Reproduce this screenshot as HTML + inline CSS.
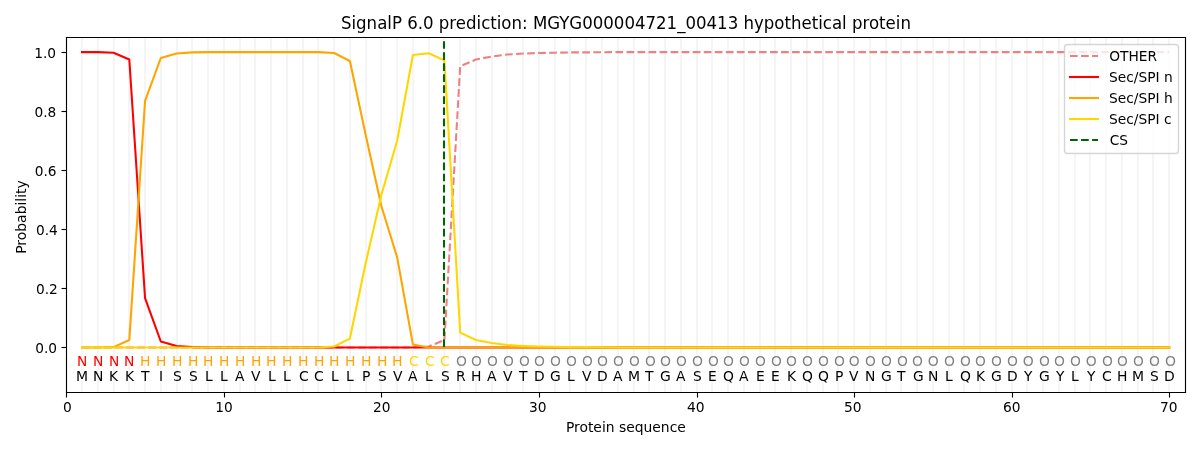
<!DOCTYPE html>
<html><head><meta charset="utf-8"><title>SignalP 6.0 prediction</title>
<style>html,body{margin:0;padding:0;background:#fff;width:1200px;height:450px;overflow:hidden}svg{display:block;will-change:transform}</style>
</head><body>
<svg width="1200" height="450" viewBox="0 0 864 324" version="1.1">
 <defs>
  <style type="text/css">*{stroke-linejoin: round; stroke-linecap: butt}</style>
 </defs>
 <g id="figure_1">
  <g id="patch_1">
   <path d="M 0 324 L 864 324 L 864 0 L 0 0 z
" style="fill: #ffffff"/>
  </g>
  <g id="axes_1">
   <g id="patch_2">
    <path d="M 47.52 282.24 L 853.2 282.24 L 853.2 26.64 L 47.52 26.64 z
" style="fill: #ffffff"/>
   </g>
   <g id="line2d_1">
    <path d="M 59.04 282.24 L 59.04 26.64 
" clip-path="url(#p40c34edd6f)" style="fill: none; stroke: #f5f5f5; stroke-width: 1.5; stroke-linecap: square"/>
   </g>
   <g id="line2d_2">
    <path d="M 70.56 282.24 L 70.56 26.64 
" clip-path="url(#p40c34edd6f)" style="fill: none; stroke: #f5f5f5; stroke-width: 1.5; stroke-linecap: square"/>
   </g>
   <g id="line2d_3">
    <path d="M 82.08 282.24 L 82.08 26.64 
" clip-path="url(#p40c34edd6f)" style="fill: none; stroke: #f5f5f5; stroke-width: 1.5; stroke-linecap: square"/>
   </g>
   <g id="line2d_4">
    <path d="M 92.88 282.24 L 92.88 26.64 
" clip-path="url(#p40c34edd6f)" style="fill: none; stroke: #f5f5f5; stroke-width: 1.5; stroke-linecap: square"/>
   </g>
   <g id="line2d_5">
    <path d="M 104.4 282.24 L 104.4 26.64 
" clip-path="url(#p40c34edd6f)" style="fill: none; stroke: #f5f5f5; stroke-width: 1.5; stroke-linecap: square"/>
   </g>
   <g id="line2d_6">
    <path d="M 115.92 282.24 L 115.92 26.64 
" clip-path="url(#p40c34edd6f)" style="fill: none; stroke: #f5f5f5; stroke-width: 1.5; stroke-linecap: square"/>
   </g>
   <g id="line2d_7">
    <path d="M 127.44 282.24 L 127.44 26.64 
" clip-path="url(#p40c34edd6f)" style="fill: none; stroke: #f5f5f5; stroke-width: 1.5; stroke-linecap: square"/>
   </g>
   <g id="line2d_8">
    <path d="M 138.24 282.24 L 138.24 26.64 
" clip-path="url(#p40c34edd6f)" style="fill: none; stroke: #f5f5f5; stroke-width: 1.5; stroke-linecap: square"/>
   </g>
   <g id="line2d_9">
    <path d="M 149.76 282.24 L 149.76 26.64 
" clip-path="url(#p40c34edd6f)" style="fill: none; stroke: #f5f5f5; stroke-width: 1.5; stroke-linecap: square"/>
   </g>
   <g id="line2d_10">
    <path d="M 161.28 282.24 L 161.28 26.64 
" clip-path="url(#p40c34edd6f)" style="fill: none; stroke: #f5f5f5; stroke-width: 1.5; stroke-linecap: square"/>
   </g>
   <g id="line2d_11">
    <path d="M 172.8 282.24 L 172.8 26.64 
" clip-path="url(#p40c34edd6f)" style="fill: none; stroke: #f5f5f5; stroke-width: 1.5; stroke-linecap: square"/>
   </g>
   <g id="line2d_12">
    <path d="M 183.6 282.24 L 183.6 26.64 
" clip-path="url(#p40c34edd6f)" style="fill: none; stroke: #f5f5f5; stroke-width: 1.5; stroke-linecap: square"/>
   </g>
   <g id="line2d_13">
    <path d="M 195.12 282.24 L 195.12 26.64 
" clip-path="url(#p40c34edd6f)" style="fill: none; stroke: #f5f5f5; stroke-width: 1.5; stroke-linecap: square"/>
   </g>
   <g id="line2d_14">
    <path d="M 206.64 282.24 L 206.64 26.64 
" clip-path="url(#p40c34edd6f)" style="fill: none; stroke: #f5f5f5; stroke-width: 1.5; stroke-linecap: square"/>
   </g>
   <g id="line2d_15">
    <path d="M 218.16 282.24 L 218.16 26.64 
" clip-path="url(#p40c34edd6f)" style="fill: none; stroke: #f5f5f5; stroke-width: 1.5; stroke-linecap: square"/>
   </g>
   <g id="line2d_16">
    <path d="M 228.96 282.24 L 228.96 26.64 
" clip-path="url(#p40c34edd6f)" style="fill: none; stroke: #f5f5f5; stroke-width: 1.5; stroke-linecap: square"/>
   </g>
   <g id="line2d_17">
    <path d="M 240.48 282.24 L 240.48 26.64 
" clip-path="url(#p40c34edd6f)" style="fill: none; stroke: #f5f5f5; stroke-width: 1.5; stroke-linecap: square"/>
   </g>
   <g id="line2d_18">
    <path d="M 252 282.24 L 252 26.64 
" clip-path="url(#p40c34edd6f)" style="fill: none; stroke: #f5f5f5; stroke-width: 1.5; stroke-linecap: square"/>
   </g>
   <g id="line2d_19">
    <path d="M 263.52 282.24 L 263.52 26.64 
" clip-path="url(#p40c34edd6f)" style="fill: none; stroke: #f5f5f5; stroke-width: 1.5; stroke-linecap: square"/>
   </g>
   <g id="line2d_20">
    <path d="M 274.32 282.24 L 274.32 26.64 
" clip-path="url(#p40c34edd6f)" style="fill: none; stroke: #f5f5f5; stroke-width: 1.5; stroke-linecap: square"/>
   </g>
   <g id="line2d_21">
    <path d="M 285.84 282.24 L 285.84 26.64 
" clip-path="url(#p40c34edd6f)" style="fill: none; stroke: #f5f5f5; stroke-width: 1.5; stroke-linecap: square"/>
   </g>
   <g id="line2d_22">
    <path d="M 297.36 282.24 L 297.36 26.64 
" clip-path="url(#p40c34edd6f)" style="fill: none; stroke: #f5f5f5; stroke-width: 1.5; stroke-linecap: square"/>
   </g>
   <g id="line2d_23">
    <path d="M 308.88 282.24 L 308.88 26.64 
" clip-path="url(#p40c34edd6f)" style="fill: none; stroke: #f5f5f5; stroke-width: 1.5; stroke-linecap: square"/>
   </g>
   <g id="line2d_24">
    <path d="M 319.68 282.24 L 319.68 26.64 
" clip-path="url(#p40c34edd6f)" style="fill: none; stroke: #f5f5f5; stroke-width: 1.5; stroke-linecap: square"/>
   </g>
   <g id="line2d_25">
    <path d="M 331.2 282.24 L 331.2 26.64 
" clip-path="url(#p40c34edd6f)" style="fill: none; stroke: #f5f5f5; stroke-width: 1.5; stroke-linecap: square"/>
   </g>
   <g id="line2d_26">
    <path d="M 342.72 282.24 L 342.72 26.64 
" clip-path="url(#p40c34edd6f)" style="fill: none; stroke: #f5f5f5; stroke-width: 1.5; stroke-linecap: square"/>
   </g>
   <g id="line2d_27">
    <path d="M 354.24 282.24 L 354.24 26.64 
" clip-path="url(#p40c34edd6f)" style="fill: none; stroke: #f5f5f5; stroke-width: 1.5; stroke-linecap: square"/>
   </g>
   <g id="line2d_28">
    <path d="M 365.04 282.24 L 365.04 26.64 
" clip-path="url(#p40c34edd6f)" style="fill: none; stroke: #f5f5f5; stroke-width: 1.5; stroke-linecap: square"/>
   </g>
   <g id="line2d_29">
    <path d="M 376.56 282.24 L 376.56 26.64 
" clip-path="url(#p40c34edd6f)" style="fill: none; stroke: #f5f5f5; stroke-width: 1.5; stroke-linecap: square"/>
   </g>
   <g id="line2d_30">
    <path d="M 388.08 282.24 L 388.08 26.64 
" clip-path="url(#p40c34edd6f)" style="fill: none; stroke: #f5f5f5; stroke-width: 1.5; stroke-linecap: square"/>
   </g>
   <g id="line2d_31">
    <path d="M 399.6 282.24 L 399.6 26.64 
" clip-path="url(#p40c34edd6f)" style="fill: none; stroke: #f5f5f5; stroke-width: 1.5; stroke-linecap: square"/>
   </g>
   <g id="line2d_32">
    <path d="M 410.4 282.24 L 410.4 26.64 
" clip-path="url(#p40c34edd6f)" style="fill: none; stroke: #f5f5f5; stroke-width: 1.5; stroke-linecap: square"/>
   </g>
   <g id="line2d_33">
    <path d="M 421.92 282.24 L 421.92 26.64 
" clip-path="url(#p40c34edd6f)" style="fill: none; stroke: #f5f5f5; stroke-width: 1.5; stroke-linecap: square"/>
   </g>
   <g id="line2d_34">
    <path d="M 433.44 282.24 L 433.44 26.64 
" clip-path="url(#p40c34edd6f)" style="fill: none; stroke: #f5f5f5; stroke-width: 1.5; stroke-linecap: square"/>
   </g>
   <g id="line2d_35">
    <path d="M 444.96 282.24 L 444.96 26.64 
" clip-path="url(#p40c34edd6f)" style="fill: none; stroke: #f5f5f5; stroke-width: 1.5; stroke-linecap: square"/>
   </g>
   <g id="line2d_36">
    <path d="M 456.48 282.24 L 456.48 26.64 
" clip-path="url(#p40c34edd6f)" style="fill: none; stroke: #f5f5f5; stroke-width: 1.5; stroke-linecap: square"/>
   </g>
   <g id="line2d_37">
    <path d="M 467.28 282.24 L 467.28 26.64 
" clip-path="url(#p40c34edd6f)" style="fill: none; stroke: #f5f5f5; stroke-width: 1.5; stroke-linecap: square"/>
   </g>
   <g id="line2d_38">
    <path d="M 478.8 282.24 L 478.8 26.64 
" clip-path="url(#p40c34edd6f)" style="fill: none; stroke: #f5f5f5; stroke-width: 1.5; stroke-linecap: square"/>
   </g>
   <g id="line2d_39">
    <path d="M 490.32 282.24 L 490.32 26.64 
" clip-path="url(#p40c34edd6f)" style="fill: none; stroke: #f5f5f5; stroke-width: 1.5; stroke-linecap: square"/>
   </g>
   <g id="line2d_40">
    <path d="M 501.84 282.24 L 501.84 26.64 
" clip-path="url(#p40c34edd6f)" style="fill: none; stroke: #f5f5f5; stroke-width: 1.5; stroke-linecap: square"/>
   </g>
   <g id="line2d_41">
    <path d="M 512.64 282.24 L 512.64 26.64 
" clip-path="url(#p40c34edd6f)" style="fill: none; stroke: #f5f5f5; stroke-width: 1.5; stroke-linecap: square"/>
   </g>
   <g id="line2d_42">
    <path d="M 524.16 282.24 L 524.16 26.64 
" clip-path="url(#p40c34edd6f)" style="fill: none; stroke: #f5f5f5; stroke-width: 1.5; stroke-linecap: square"/>
   </g>
   <g id="line2d_43">
    <path d="M 535.68 282.24 L 535.68 26.64 
" clip-path="url(#p40c34edd6f)" style="fill: none; stroke: #f5f5f5; stroke-width: 1.5; stroke-linecap: square"/>
   </g>
   <g id="line2d_44">
    <path d="M 547.2 282.24 L 547.2 26.64 
" clip-path="url(#p40c34edd6f)" style="fill: none; stroke: #f5f5f5; stroke-width: 1.5; stroke-linecap: square"/>
   </g>
   <g id="line2d_45">
    <path d="M 558 282.24 L 558 26.64 
" clip-path="url(#p40c34edd6f)" style="fill: none; stroke: #f5f5f5; stroke-width: 1.5; stroke-linecap: square"/>
   </g>
   <g id="line2d_46">
    <path d="M 569.52 282.24 L 569.52 26.64 
" clip-path="url(#p40c34edd6f)" style="fill: none; stroke: #f5f5f5; stroke-width: 1.5; stroke-linecap: square"/>
   </g>
   <g id="line2d_47">
    <path d="M 581.04 282.24 L 581.04 26.64 
" clip-path="url(#p40c34edd6f)" style="fill: none; stroke: #f5f5f5; stroke-width: 1.5; stroke-linecap: square"/>
   </g>
   <g id="line2d_48">
    <path d="M 592.56 282.24 L 592.56 26.64 
" clip-path="url(#p40c34edd6f)" style="fill: none; stroke: #f5f5f5; stroke-width: 1.5; stroke-linecap: square"/>
   </g>
   <g id="line2d_49">
    <path d="M 603.36 282.24 L 603.36 26.64 
" clip-path="url(#p40c34edd6f)" style="fill: none; stroke: #f5f5f5; stroke-width: 1.5; stroke-linecap: square"/>
   </g>
   <g id="line2d_50">
    <path d="M 614.88 282.24 L 614.88 26.64 
" clip-path="url(#p40c34edd6f)" style="fill: none; stroke: #f5f5f5; stroke-width: 1.5; stroke-linecap: square"/>
   </g>
   <g id="line2d_51">
    <path d="M 626.4 282.24 L 626.4 26.64 
" clip-path="url(#p40c34edd6f)" style="fill: none; stroke: #f5f5f5; stroke-width: 1.5; stroke-linecap: square"/>
   </g>
   <g id="line2d_52">
    <path d="M 637.92 282.24 L 637.92 26.64 
" clip-path="url(#p40c34edd6f)" style="fill: none; stroke: #f5f5f5; stroke-width: 1.5; stroke-linecap: square"/>
   </g>
   <g id="line2d_53">
    <path d="M 648.72 282.24 L 648.72 26.64 
" clip-path="url(#p40c34edd6f)" style="fill: none; stroke: #f5f5f5; stroke-width: 1.5; stroke-linecap: square"/>
   </g>
   <g id="line2d_54">
    <path d="M 660.24 282.24 L 660.24 26.64 
" clip-path="url(#p40c34edd6f)" style="fill: none; stroke: #f5f5f5; stroke-width: 1.5; stroke-linecap: square"/>
   </g>
   <g id="line2d_55">
    <path d="M 671.76 282.24 L 671.76 26.64 
" clip-path="url(#p40c34edd6f)" style="fill: none; stroke: #f5f5f5; stroke-width: 1.5; stroke-linecap: square"/>
   </g>
   <g id="line2d_56">
    <path d="M 683.28 282.24 L 683.28 26.64 
" clip-path="url(#p40c34edd6f)" style="fill: none; stroke: #f5f5f5; stroke-width: 1.5; stroke-linecap: square"/>
   </g>
   <g id="line2d_57">
    <path d="M 694.08 282.24 L 694.08 26.64 
" clip-path="url(#p40c34edd6f)" style="fill: none; stroke: #f5f5f5; stroke-width: 1.5; stroke-linecap: square"/>
   </g>
   <g id="line2d_58">
    <path d="M 705.6 282.24 L 705.6 26.64 
" clip-path="url(#p40c34edd6f)" style="fill: none; stroke: #f5f5f5; stroke-width: 1.5; stroke-linecap: square"/>
   </g>
   <g id="line2d_59">
    <path d="M 717.12 282.24 L 717.12 26.64 
" clip-path="url(#p40c34edd6f)" style="fill: none; stroke: #f5f5f5; stroke-width: 1.5; stroke-linecap: square"/>
   </g>
   <g id="line2d_60">
    <path d="M 728.64 282.24 L 728.64 26.64 
" clip-path="url(#p40c34edd6f)" style="fill: none; stroke: #f5f5f5; stroke-width: 1.5; stroke-linecap: square"/>
   </g>
   <g id="line2d_61">
    <path d="M 739.44 282.24 L 739.44 26.64 
" clip-path="url(#p40c34edd6f)" style="fill: none; stroke: #f5f5f5; stroke-width: 1.5; stroke-linecap: square"/>
   </g>
   <g id="line2d_62">
    <path d="M 750.96 282.24 L 750.96 26.64 
" clip-path="url(#p40c34edd6f)" style="fill: none; stroke: #f5f5f5; stroke-width: 1.5; stroke-linecap: square"/>
   </g>
   <g id="line2d_63">
    <path d="M 762.48 282.24 L 762.48 26.64 
" clip-path="url(#p40c34edd6f)" style="fill: none; stroke: #f5f5f5; stroke-width: 1.5; stroke-linecap: square"/>
   </g>
   <g id="line2d_64">
    <path d="M 774 282.24 L 774 26.64 
" clip-path="url(#p40c34edd6f)" style="fill: none; stroke: #f5f5f5; stroke-width: 1.5; stroke-linecap: square"/>
   </g>
   <g id="line2d_65">
    <path d="M 784.8 282.24 L 784.8 26.64 
" clip-path="url(#p40c34edd6f)" style="fill: none; stroke: #f5f5f5; stroke-width: 1.5; stroke-linecap: square"/>
   </g>
   <g id="line2d_66">
    <path d="M 796.32 282.24 L 796.32 26.64 
" clip-path="url(#p40c34edd6f)" style="fill: none; stroke: #f5f5f5; stroke-width: 1.5; stroke-linecap: square"/>
   </g>
   <g id="line2d_67">
    <path d="M 807.84 282.24 L 807.84 26.64 
" clip-path="url(#p40c34edd6f)" style="fill: none; stroke: #f5f5f5; stroke-width: 1.5; stroke-linecap: square"/>
   </g>
   <g id="line2d_68">
    <path d="M 819.36 282.24 L 819.36 26.64 
" clip-path="url(#p40c34edd6f)" style="fill: none; stroke: #f5f5f5; stroke-width: 1.5; stroke-linecap: square"/>
   </g>
   <g id="line2d_69">
    <path d="M 830.16 282.24 L 830.16 26.64 
" clip-path="url(#p40c34edd6f)" style="fill: none; stroke: #f5f5f5; stroke-width: 1.5; stroke-linecap: square"/>
   </g>
   <g id="line2d_70">
    <path d="M 841.68 282.24 L 841.68 26.64 
" clip-path="url(#p40c34edd6f)" style="fill: none; stroke: #f5f5f5; stroke-width: 1.5; stroke-linecap: square"/>
   </g>
   <g id="matplotlib.axis_1">
    <g id="xtick_1">
     <g id="line2d_71">
      <defs>
       <path id="maa40d0f9ec" d="M 0.36 0.36 L 0.36 3.96 
" style="stroke: #000000; stroke-width: 0.8"/>
      </defs>
      <g>
       <use href="#maa40d0f9ec" x="47.52" y="282.24" style="stroke: #000000; stroke-width: 0.8"/>
      </g>
     </g>
     <g id="text_1">
      <text style="font-size: 10px; font-family: 'DejaVu Sans', sans-serif; text-anchor: middle" x="47.72" y="296.96" transform="translate(0.720 0.000) rotate(-0 47.72 296.96) translate(47.72 296.96) scale(0.9950 1.0000) translate(-47.72 -296.96)">0</text>
     </g>
    </g>
    <g id="xtick_2">
     <g id="line2d_72">
      <g>
       <use href="#maa40d0f9ec" x="161.28" y="282.24" style="stroke: #000000; stroke-width: 0.8"/>
      </g>
     </g>
     <g id="text_2">
      <text style="font-size: 10px; font-family: 'DejaVu Sans', sans-serif; text-anchor: middle" x="161.167887" y="296.96" transform="translate(0.180 0.000) rotate(-0 161.167887 296.96) translate(161.167887 296.96) scale(0.9900 1.0000) translate(-161.167887 -296.96)">10</text>
     </g>
    </g>
    <g id="xtick_3">
     <g id="line2d_73">
      <g>
       <use href="#maa40d0f9ec" x="274.32" y="282.24" style="stroke: #000000; stroke-width: 0.8"/>
      </g>
     </g>
     <g id="text_3">
      <text style="font-size: 10px; font-family: 'DejaVu Sans', sans-serif; text-anchor: middle" x="274.615775" y="296.96" transform="translate(0.180 0.000) rotate(-0 274.615775 296.96) translate(274.615775 296.96) scale(0.9900 1.0000) translate(-274.615775 -296.96)">20</text>
     </g>
    </g>
    <g id="xtick_4">
     <g id="line2d_74">
      <g>
       <use href="#maa40d0f9ec" x="388.08" y="282.24" style="stroke: #000000; stroke-width: 0.8"/>
      </g>
     </g>
     <g id="text_4">
      <text style="font-size: 10px; font-family: 'DejaVu Sans', sans-serif; text-anchor: middle" x="388.063662" y="296.96" transform="translate(-0.900 0.000) rotate(-0 388.063662 296.96) translate(388.063662 296.96) scale(0.9950 1.0000) translate(-388.063662 -296.96)">30</text>
     </g>
    </g>
    <g id="xtick_5">
     <g id="line2d_75">
      <g>
       <use href="#maa40d0f9ec" x="501.84" y="282.24" style="stroke: #000000; stroke-width: 0.8"/>
      </g>
     </g>
     <g id="text_5">
      <text style="font-size: 10px; font-family: 'DejaVu Sans', sans-serif; text-anchor: middle" x="501.511549" y="296.96" transform="translate(-0.540 0.000) rotate(-0 501.511549 296.96)">40</text>
     </g>
    </g>
    <g id="xtick_6">
     <g id="line2d_76">
      <g>
       <use href="#maa40d0f9ec" x="614.88" y="282.24" style="stroke: #000000; stroke-width: 0.8"/>
      </g>
     </g>
     <g id="text_6">
      <text style="font-size: 10px; font-family: 'DejaVu Sans', sans-serif; text-anchor: middle" x="614.959437" y="296.96" transform="translate(-0.900 0.000) rotate(-0 614.959437 296.96) translate(614.959437 296.96) scale(0.9950 1.0000) translate(-614.959437 -296.96)">50</text>
     </g>
    </g>
    <g id="xtick_7">
     <g id="line2d_77">
      <g>
       <use href="#maa40d0f9ec" x="728.64" y="282.24" style="stroke: #000000; stroke-width: 0.8"/>
      </g>
     </g>
     <g id="text_7">
      <text style="font-size: 10px; font-family: 'DejaVu Sans', sans-serif; text-anchor: middle" x="728.407324" y="296.96" transform="translate(0.000 0.000) rotate(-0 728.407324 296.96) translate(728.407324 296.96) scale(0.9950 1.0000) translate(-728.407324 -296.96)">60</text>
     </g>
    </g>
    <g id="xtick_8">
     <g id="line2d_78">
      <g>
       <use href="#maa40d0f9ec" x="841.68" y="282.24" style="stroke: #000000; stroke-width: 0.8"/>
      </g>
     </g>
     <g id="text_8">
      <text style="font-size: 10px; font-family: 'DejaVu Sans', sans-serif; text-anchor: middle" x="841.855211" y="296.96" transform="translate(-0.360 0.000) rotate(-0 841.855211 296.96) translate(841.855211 296.96) scale(0.9950 1.0000) translate(-841.855211 -296.96)">70</text>
     </g>
    </g>
    <g id="text_9">
     <text style="font-size: 10px; font-family: 'DejaVu Sans', sans-serif; text-anchor: middle" x="450.46" y="311.04" transform="translate(0.180 0.000) rotate(-0 450.46 311.04)">Protein sequence</text>
    </g>
   </g>
   <g id="matplotlib.axis_2">
    <g id="ytick_1">
     <g id="line2d_79">
      <defs>
       <path id="m4ad1b35ef3" d="M 0.36 0.36 L -3.24 0.36 
" style="stroke: #000000; stroke-width: 0.8"/>
      </defs>
      <g>
       <use href="#m4ad1b35ef3" x="47.52" y="249.84" style="stroke: #000000; stroke-width: 0.8"/>
      </g>
     </g>
     <g id="text_10">
      <text style="font-size: 10px; font-family: 'DejaVu Sans', sans-serif; text-anchor: end" x="40.72" y="254.105" transform="translate(0.360 0.000) rotate(-0 40.72 254.105) translate(40.72 254.105) scale(0.9900 1.0000) translate(-40.72 -254.105)">0.0</text>
     </g>
    </g>
    <g id="ytick_2">
     <g id="line2d_80">
      <g>
       <use href="#m4ad1b35ef3" x="47.52" y="207.36" style="stroke: #000000; stroke-width: 0.8"/>
      </g>
     </g>
     <g id="text_11">
      <text style="font-size: 10px; font-family: 'DejaVu Sans', sans-serif; text-anchor: end" x="40.72" y="211.578333" transform="translate(0.900 0.000) rotate(-0 40.72 211.578333) translate(40.72 211.578333) scale(0.9900 1.0000) translate(-40.72 -211.578333)">0.2</text>
     </g>
    </g>
    <g id="ytick_3">
     <g id="line2d_81">
      <g>
       <use href="#m4ad1b35ef3" x="47.52" y="164.88" style="stroke: #000000; stroke-width: 0.8"/>
      </g>
     </g>
     <g id="text_12">
      <text style="font-size: 10px; font-family: 'DejaVu Sans', sans-serif; text-anchor: end" x="40.72" y="169.051667" transform="translate(0.900 0.000) rotate(-0 40.72 169.051667) translate(40.72 169.051667) scale(0.9900 1.0000) translate(-40.72 -169.051667)">0.4</text>
     </g>
    </g>
    <g id="ytick_4">
     <g id="line2d_82">
      <g>
       <use href="#m4ad1b35ef3" x="47.52" y="122.4" style="stroke: #000000; stroke-width: 0.8"/>
      </g>
     </g>
     <g id="text_13">
      <text style="font-size: 10px; font-family: 'DejaVu Sans', sans-serif; text-anchor: end" x="40.72" y="126.525" transform="translate(0.000 0.000) rotate(-0 40.72 126.525) translate(40.72 126.525) scale(0.9900 1.0000) translate(-40.72 -126.525)">0.6</text>
     </g>
    </g>
    <g id="ytick_5">
     <g id="line2d_83">
      <g>
       <use href="#m4ad1b35ef3" x="47.52" y="79.92" style="stroke: #000000; stroke-width: 0.8"/>
      </g>
     </g>
     <g id="text_14">
      <text style="font-size: 10px; font-family: 'DejaVu Sans', sans-serif; text-anchor: end" x="40.72" y="83.998333" transform="translate(-0.180 0.000) rotate(-0 40.72 83.998333) translate(40.72 83.998333) scale(0.9900 1.0000) translate(-40.72 -83.998333)">0.8</text>
     </g>
    </g>
    <g id="ytick_6">
     <g id="line2d_84">
      <g>
       <use href="#m4ad1b35ef3" x="47.52" y="37.44" style="stroke: #000000; stroke-width: 0.8"/>
      </g>
     </g>
     <g id="text_15">
      <text style="font-size: 10px; font-family: 'DejaVu Sans', sans-serif; text-anchor: end" x="40.72" y="41.471667" transform="translate(-0.360 0.000) rotate(-0 40.72 41.471667) translate(40.72 41.471667) scale(0.9900 1.0000) translate(-40.72 -41.471667)">1.0</text>
     </g>
    </g>
    <g id="text_16">
     <text style="font-size: 10px; font-family: 'DejaVu Sans', sans-serif; text-anchor: middle" x="18.72" y="154.46" transform="translate(0.000 1.800) rotate(-90 18.72 154.46) translate(18.72 154.46) scale(1.0050 1.0000) translate(-18.72 -154.46)">Probability</text>
    </g>
   </g>
   <g id="line2d_85">
    <path d="M 59.064789 250.145 L 70.409577 250.145 L 81.754366 250.145 L 93.099155 250.145 L 104.443944 250.145 L 115.788732 250.145 L 127.133521 250.145 L 138.47831 250.145 L 149.823099 250.145 L 161.167887 250.145 L 172.512676 250.145 L 183.857465 250.145 L 195.202254 250.145 L 206.547042 250.145 L 217.891831 250.145 L 229.23662 250.145 L 240.581408 250.145 L 251.926197 250.145 L 263.270986 250.145 L 274.615775 250.145 L 285.960563 250.145 L 297.305352 250.145 L 308.650141 249.5071 L 319.99493 244.829167 L 331.339718 47.718067 L 342.684507 42.8275 L 354.029296 40.701167 L 365.374085 39.212733 L 376.718873 38.574833 L 388.063662 38.149567 L 399.408451 37.936933 L 410.753239 37.7243 L 422.098028 37.7243 L 433.442817 37.617983 L 444.787606 37.511667 L 456.132394 37.511667 L 467.477183 37.511667 L 478.821972 37.511667 L 490.166761 37.511667 L 501.511549 37.511667 L 512.856338 37.511667 L 524.201127 37.511667 L 535.545915 37.511667 L 546.890704 37.511667 L 558.235493 37.511667 L 569.580282 37.511667 L 580.92507 37.511667 L 592.269859 37.511667 L 603.614648 37.511667 L 614.959437 37.511667 L 626.304225 37.511667 L 637.649014 37.511667 L 648.993803 37.511667 L 660.338592 37.511667 L 671.68338 37.511667 L 683.028169 37.511667 L 694.372958 37.511667 L 705.717746 37.511667 L 717.062535 37.511667 L 728.407324 37.511667 L 739.752113 37.511667 L 751.096901 37.511667 L 762.44169 37.511667 L 773.786479 37.511667 L 785.131268 37.511667 L 796.476056 37.511667 L 807.820845 37.511667 L 819.165634 37.511667 L 830.510423 37.511667 L 841.855211 37.511667 
" clip-path="url(#p40c34edd6f)" style="fill: none; stroke-dasharray: 5.55,2.4; stroke-dashoffset: 0; stroke: #f08080; stroke-width: 1.5"/>
   </g>
   <g id="line2d_86">
    <path d="M 59.064789 37.511667 L 70.409577 37.511667 L 81.754366 37.936933 L 93.099155 42.8275 L 104.443944 214.635233 L 115.788732 245.892333 L 127.133521 249.081833 L 138.47831 249.932367 L 149.823099 250.145 L 161.167887 250.145 L 172.512676 250.145 L 183.857465 250.145 L 195.202254 250.145 L 206.547042 250.145 L 217.891831 250.145 L 229.23662 250.145 L 240.581408 250.145 L 251.926197 250.145 L 263.270986 250.145 L 274.615775 250.145 L 285.960563 250.145 L 297.305352 250.145 L 308.650141 250.145 L 319.99493 250.145 L 331.339718 250.145 L 342.684507 250.145 L 354.029296 250.145 L 365.374085 250.145 L 376.718873 250.145 L 388.063662 250.145 L 399.408451 250.145 L 410.753239 250.145 L 422.098028 250.145 L 433.442817 250.145 L 444.787606 250.145 L 456.132394 250.145 L 467.477183 250.145 L 478.821972 250.145 L 490.166761 250.145 L 501.511549 250.145 L 512.856338 250.145 L 524.201127 250.145 L 535.545915 250.145 L 546.890704 250.145 L 558.235493 250.145 L 569.580282 250.145 L 580.92507 250.145 L 592.269859 250.145 L 603.614648 250.145 L 614.959437 250.145 L 626.304225 250.145 L 637.649014 250.145 L 648.993803 250.145 L 660.338592 250.145 L 671.68338 250.145 L 683.028169 250.145 L 694.372958 250.145 L 705.717746 250.145 L 717.062535 250.145 L 728.407324 250.145 L 739.752113 250.145 L 751.096901 250.145 L 762.44169 250.145 L 773.786479 250.145 L 785.131268 250.145 L 796.476056 250.145 L 807.820845 250.145 L 819.165634 250.145 L 830.510423 250.145 L 841.855211 250.145 
" clip-path="url(#p40c34edd6f)" style="fill: none; stroke: #ff0000; stroke-width: 1.5; stroke-linecap: square"/>
   </g>
   <g id="line2d_87">
    <path d="M 59.064789 250.145 L 70.409577 250.145 L 81.754366 249.932367 L 93.099155 244.829167 L 104.443944 72.596167 L 115.788732 41.764333 L 127.133521 38.574833 L 138.47831 37.7243 L 149.823099 37.511667 L 161.167887 37.511667 L 172.512676 37.511667 L 183.857465 37.511667 L 195.202254 37.511667 L 206.547042 37.511667 L 217.891831 37.511667 L 229.23662 37.511667 L 240.581408 38.149567 L 251.926197 43.890667 L 263.270986 97.049 L 274.615775 148.506267 L 285.960563 185.291833 L 297.305352 248.018667 L 308.650141 250.145 L 319.99493 250.145 L 331.339718 250.145 L 342.684507 250.145 L 354.029296 250.145 L 365.374085 250.145 L 376.718873 250.145 L 388.063662 250.145 L 399.408451 250.145 L 410.753239 250.145 L 422.098028 250.145 L 433.442817 250.145 L 444.787606 250.145 L 456.132394 250.145 L 467.477183 250.145 L 478.821972 250.145 L 490.166761 250.145 L 501.511549 250.145 L 512.856338 250.145 L 524.201127 250.145 L 535.545915 250.145 L 546.890704 250.145 L 558.235493 250.145 L 569.580282 250.145 L 580.92507 250.145 L 592.269859 250.145 L 603.614648 250.145 L 614.959437 250.145 L 626.304225 250.145 L 637.649014 250.145 L 648.993803 250.145 L 660.338592 250.145 L 671.68338 250.145 L 683.028169 250.145 L 694.372958 250.145 L 705.717746 250.145 L 717.062535 250.145 L 728.407324 250.145 L 739.752113 250.145 L 751.096901 250.145 L 762.44169 250.145 L 773.786479 250.145 L 785.131268 250.145 L 796.476056 250.145 L 807.820845 250.145 L 819.165634 250.145 L 830.510423 250.145 L 841.855211 250.145 
" clip-path="url(#p40c34edd6f)" style="fill: none; stroke: #ffa500; stroke-width: 1.5; stroke-linecap: square"/>
   </g>
   <g id="line2d_88">
    <path d="M 59.064789 250.145 L 70.409577 250.145 L 81.754366 250.145 L 93.099155 250.145 L 104.443944 250.145 L 115.788732 250.145 L 127.133521 250.145 L 138.47831 250.145 L 149.823099 250.145 L 161.167887 250.145 L 172.512676 250.145 L 183.857465 250.145 L 195.202254 250.145 L 206.547042 250.145 L 217.891831 250.145 L 229.23662 250.145 L 240.581408 249.5071 L 251.926197 243.766 L 263.270986 189.5445 L 274.615775 140.213567 L 285.960563 101.301667 L 297.305352 39.638 L 308.650141 38.3622 L 319.99493 43.4654 L 331.339718 239.513333 L 342.684507 244.829167 L 354.029296 246.9555 L 365.374085 248.443933 L 376.718873 249.081833 L 388.063662 249.5071 L 399.408451 249.719733 L 410.753239 249.932367 L 422.098028 249.932367 L 433.442817 250.038683 L 444.787606 250.145 L 456.132394 250.145 L 467.477183 250.145 L 478.821972 250.145 L 490.166761 250.145 L 501.511549 250.145 L 512.856338 250.145 L 524.201127 250.145 L 535.545915 250.145 L 546.890704 250.145 L 558.235493 250.145 L 569.580282 250.145 L 580.92507 250.145 L 592.269859 250.145 L 603.614648 250.145 L 614.959437 250.145 L 626.304225 250.145 L 637.649014 250.145 L 648.993803 250.145 L 660.338592 250.145 L 671.68338 250.145 L 683.028169 250.145 L 694.372958 250.145 L 705.717746 250.145 L 717.062535 250.145 L 728.407324 250.145 L 739.752113 250.145 L 751.096901 250.145 L 762.44169 250.145 L 773.786479 250.145 L 785.131268 250.145 L 796.476056 250.145 L 807.820845 250.145 L 819.165634 250.145 L 830.510423 250.145 L 841.855211 250.145 
" clip-path="url(#p40c34edd6f)" style="fill: none; stroke: #ffd700; stroke-width: 1.5; stroke-linecap: square"/>
   </g>
   <g id="line2d_89">
    <path d="M 319.68 249.84 L 319.68 26.64 
" clip-path="url(#p40c34edd6f)" style="fill: none; stroke-dasharray: 5.55,2.4; stroke-dashoffset: 0; stroke: #006400; stroke-width: 1.5"/>
   </g>
   <g id="patch_3">
    <path d="M 47.88 282.6 L 47.88 27 
" style="fill: none; stroke: #000000; stroke-width: 0.8; stroke-linejoin: miter; stroke-linecap: square"/>
   </g>
   <g id="patch_4">
    <path d="M 853.56 282.6 L 853.56 27 
" style="fill: none; stroke: #000000; stroke-width: 0.8; stroke-linejoin: miter; stroke-linecap: square"/>
   </g>
   <g id="patch_5">
    <path d="M 47.88 282.6 L 853.56 282.6 
" style="fill: none; stroke: #000000; stroke-width: 0.8; stroke-linejoin: miter; stroke-linecap: square"/>
   </g>
   <g id="patch_6">
    <path d="M 47.88 27 L 853.56 27 
" style="fill: none; stroke: #000000; stroke-width: 0.8; stroke-linejoin: miter; stroke-linecap: square"/>
   </g>
   <g id="text_17">
    <text style="font-size: 10px; font-family: 'DejaVu Sans', sans-serif; text-anchor: middle; fill: #ff0000" x="59.064789" y="263.656667" transform="translate(0.000 0.000) rotate(-0 59.064789 263.656667) translate(59.064789 263.656667) scale(0.9900 1.0000) translate(-59.064789 -263.656667)">N</text>
   </g>
   <g id="text_18">
    <text style="font-size: 10px; font-family: 'DejaVu Sans', sans-serif; text-anchor: middle" x="59.064789" y="274.288333" transform="translate(0.000 0.000) rotate(-0 59.064789 274.288333) translate(59.064789 274.288333) scale(1.0050 1.0000) translate(-59.064789 -274.288333)">M</text>
   </g>
   <g id="text_19">
    <text style="font-size: 10px; font-family: 'DejaVu Sans', sans-serif; text-anchor: middle; fill: #ff0000" x="70.409577" y="263.656667" transform="translate(0.360 0.000) rotate(-0 70.409577 263.656667)">N</text>
   </g>
   <g id="text_20">
    <text style="font-size: 10px; font-family: 'DejaVu Sans', sans-serif; text-anchor: middle" x="70.409577" y="274.288333" transform="translate(0.360 0.000) rotate(-0 70.409577 274.288333)">N</text>
   </g>
   <g id="text_21">
    <text style="font-size: 10px; font-family: 'DejaVu Sans', sans-serif; text-anchor: middle; fill: #ff0000" x="81.754366" y="263.656667" transform="translate(0.360 0.000) rotate(-0 81.754366 263.656667) translate(81.754366 263.656667) scale(0.9900 1.0000) translate(-81.754366 -263.656667)">N</text>
   </g>
   <g id="text_22">
    <text style="font-size: 10px; font-family: 'DejaVu Sans', sans-serif; text-anchor: middle" x="81.754366" y="274.288333" transform="translate(0.000 0.000) rotate(-0 81.754366 274.288333) translate(81.754366 274.288333) scale(0.9900 1.0000) translate(-81.754366 -274.288333)">K</text>
   </g>
   <g id="text_23">
    <text style="font-size: 10px; font-family: 'DejaVu Sans', sans-serif; text-anchor: middle; fill: #ff0000" x="93.099155" y="263.656667" transform="rotate(-0 93.099155 263.656667)">N</text>
   </g>
   <g id="text_24">
    <text style="font-size: 10px; font-family: 'DejaVu Sans', sans-serif; text-anchor: middle" x="93.099155" y="274.288333" transform="translate(0.180 0.000) rotate(-0 93.099155 274.288333)">K</text>
   </g>
   <g id="text_25">
    <text style="font-size: 10px; font-family: 'DejaVu Sans', sans-serif; text-anchor: middle; fill: #ffa500" x="104.443944" y="263.656667" transform="translate(0.180 0.000) rotate(-0 104.443944 263.656667)">H</text>
   </g>
   <g id="text_26">
    <text style="font-size: 10px; font-family: 'DejaVu Sans', sans-serif; text-anchor: middle" x="104.443944" y="274.288333" transform="translate(0.180 0.000) rotate(-0 104.443944 274.288333) translate(104.443944 274.288333) scale(1.0050 1.0000) translate(-104.443944 -274.288333)">T</text>
   </g>
   <g id="text_27">
    <text style="font-size: 10px; font-family: 'DejaVu Sans', sans-serif; text-anchor: middle; fill: #ffa500" x="115.788732" y="263.656667" transform="translate(0.180 0.000) rotate(-0 115.788732 263.656667) translate(115.788732 263.656667) scale(0.9900 1.0000) translate(-115.788732 -263.656667)">H</text>
   </g>
   <g id="text_28">
    <text style="font-size: 10px; font-family: 'DejaVu Sans', sans-serif; text-anchor: middle" x="115.788732" y="274.288333" transform="translate(0.180 0.000) rotate(-0 115.788732 274.288333) translate(115.788732 274.288333) scale(0.9900 1.0000) translate(-115.788732 -274.288333)">I</text>
   </g>
   <g id="text_29">
    <text style="font-size: 10px; font-family: 'DejaVu Sans', sans-serif; text-anchor: middle; fill: #ffa500" x="127.133521" y="263.656667" transform="translate(0.540 0.000) rotate(-0 127.133521 263.656667)">H</text>
   </g>
   <g id="text_30">
    <text style="font-size: 10px; font-family: 'DejaVu Sans', sans-serif; text-anchor: middle" x="127.133521" y="274.288333" transform="translate(0.540 0.000) rotate(-0 127.133521 274.288333)">S</text>
   </g>
   <g id="text_31">
    <text style="font-size: 10px; font-family: 'DejaVu Sans', sans-serif; text-anchor: middle; fill: #ffa500" x="138.47831" y="263.656667" transform="translate(0.720 0.000) rotate(-0 138.47831 263.656667)">H</text>
   </g>
   <g id="text_32">
    <text style="font-size: 10px; font-family: 'DejaVu Sans', sans-serif; text-anchor: middle" x="138.47831" y="274.288333" transform="translate(0.720 0.000) rotate(-0 138.47831 274.288333) translate(138.47831 274.288333) scale(0.9950 1.0000) translate(-138.47831 -274.288333)">S</text>
   </g>
   <g id="text_33">
    <text style="font-size: 10px; font-family: 'DejaVu Sans', sans-serif; text-anchor: middle; fill: #ffa500" x="149.823099" y="263.656667" transform="translate(0.180 0.000) rotate(-0 149.823099 263.656667)">H</text>
   </g>
   <g id="text_34">
    <text style="font-size: 10px; font-family: 'DejaVu Sans', sans-serif; text-anchor: middle" x="149.823099" y="274.288333" transform="translate(0.540 0.000) rotate(-0 149.823099 274.288333)">L</text>
   </g>
   <g id="text_35">
    <text style="font-size: 10px; font-family: 'DejaVu Sans', sans-serif; text-anchor: middle; fill: #ffa500" x="161.167887" y="263.656667" transform="translate(0.180 0.000) rotate(-0 161.167887 263.656667) translate(161.167887 263.656667) scale(0.9950 1.0000) translate(-161.167887 -263.656667)">H</text>
   </g>
   <g id="text_36">
    <text style="font-size: 10px; font-family: 'DejaVu Sans', sans-serif; text-anchor: middle" x="161.167887" y="274.288333" transform="rotate(-0 161.167887 274.288333)">L</text>
   </g>
   <g id="text_37">
    <text style="font-size: 10px; font-family: 'DejaVu Sans', sans-serif; text-anchor: middle; fill: #ffa500" x="172.512676" y="263.656667" transform="translate(0.360 0.000) rotate(-0 172.512676 263.656667) translate(172.512676 263.656667) scale(0.9950 1.0000) translate(-172.512676 -263.656667)">H</text>
   </g>
   <g id="text_38">
    <text style="font-size: 10px; font-family: 'DejaVu Sans', sans-serif; text-anchor: middle" x="172.512676" y="274.288333" transform="translate(0.180 0.000) rotate(-0 172.512676 274.288333) translate(172.512676 274.288333) scale(0.9950 1.0000) translate(-172.512676 -274.288333)">A</text>
   </g>
   <g id="text_39">
    <text style="font-size: 10px; font-family: 'DejaVu Sans', sans-serif; text-anchor: middle; fill: #ffa500" x="183.857465" y="263.656667" transform="translate(0.540 0.000) rotate(-0 183.857465 263.656667) translate(183.857465 263.656667) scale(0.9950 1.0000) translate(-183.857465 -263.656667)">H</text>
   </g>
   <g id="text_40">
    <text style="font-size: 10px; font-family: 'DejaVu Sans', sans-serif; text-anchor: middle" x="183.857465" y="274.288333" transform="translate(0.360 0.000) rotate(-0 183.857465 274.288333)">V</text>
   </g>
   <g id="text_41">
    <text style="font-size: 10px; font-family: 'DejaVu Sans', sans-serif; text-anchor: middle; fill: #ffa500" x="195.202254" y="263.656667" transform="translate(0.180 0.000) rotate(-0 195.202254 263.656667) translate(195.202254 263.656667) scale(1.0050 1.0000) translate(-195.202254 -263.656667)">H</text>
   </g>
   <g id="text_42">
    <text style="font-size: 10px; font-family: 'DejaVu Sans', sans-serif; text-anchor: middle" x="195.202254" y="274.288333" transform="translate(0.540 0.000) rotate(-0 195.202254 274.288333) translate(195.202254 274.288333) scale(1.0050 1.0000) translate(-195.202254 -274.288333)">L</text>
   </g>
   <g id="text_43">
    <text style="font-size: 10px; font-family: 'DejaVu Sans', sans-serif; text-anchor: middle; fill: #ffa500" x="206.547042" y="263.656667" transform="translate(0.180 0.000) rotate(-0 206.547042 263.656667)">H</text>
   </g>
   <g id="text_44">
    <text style="font-size: 10px; font-family: 'DejaVu Sans', sans-serif; text-anchor: middle" x="206.547042" y="274.288333" transform="rotate(-0 206.547042 274.288333)">L</text>
   </g>
   <g id="text_45">
    <text style="font-size: 10px; font-family: 'DejaVu Sans', sans-serif; text-anchor: middle; fill: #ffa500" x="217.891831" y="263.656667" transform="translate(0.540 0.000) rotate(-0 217.891831 263.656667) translate(217.891831 263.656667) scale(1.0050 1.0000) translate(-217.891831 -263.656667)">H</text>
   </g>
   <g id="text_46">
    <text style="font-size: 10px; font-family: 'DejaVu Sans', sans-serif; text-anchor: middle" x="217.891831" y="274.288333" transform="translate(0.900 0.000) rotate(-0 217.891831 274.288333) translate(217.891831 274.288333) scale(1.0050 1.0000) translate(-217.891831 -274.288333)">C</text>
   </g>
   <g id="text_47">
    <text style="font-size: 10px; font-family: 'DejaVu Sans', sans-serif; text-anchor: middle; fill: #ffa500" x="229.23662" y="263.656667" transform="translate(0.540 0.000) rotate(-0 229.23662 263.656667) translate(229.23662 263.656667) scale(0.9950 1.0000) translate(-229.23662 -263.656667)">H</text>
   </g>
   <g id="text_48">
    <text style="font-size: 10px; font-family: 'DejaVu Sans', sans-serif; text-anchor: middle" x="229.23662" y="274.288333" transform="translate(0.360 0.000) rotate(-0 229.23662 274.288333) translate(229.23662 274.288333) scale(1.0050 1.0000) translate(-229.23662 -274.288333)">C</text>
   </g>
   <g id="text_49">
    <text style="font-size: 10px; font-family: 'DejaVu Sans', sans-serif; text-anchor: middle; fill: #ffa500" x="240.581408" y="263.656667" transform="rotate(-0 240.581408 263.656667)">H</text>
   </g>
   <g id="text_50">
    <text style="font-size: 10px; font-family: 'DejaVu Sans', sans-serif; text-anchor: middle" x="240.581408" y="274.288333" transform="translate(0.540 0.000) rotate(-0 240.581408 274.288333) translate(240.581408 274.288333) scale(0.9900 1.0000) translate(-240.581408 -274.288333)">L</text>
   </g>
   <g id="text_51">
    <text style="font-size: 10px; font-family: 'DejaVu Sans', sans-serif; text-anchor: middle; fill: #ffa500" x="251.926197" y="263.656667" transform="translate(0.180 0.000) rotate(-0 251.926197 263.656667)">H</text>
   </g>
   <g id="text_52">
    <text style="font-size: 10px; font-family: 'DejaVu Sans', sans-serif; text-anchor: middle" x="251.926197" y="274.288333" transform="rotate(-0 251.926197 274.288333)">L</text>
   </g>
   <g id="text_53">
    <text style="font-size: 10px; font-family: 'DejaVu Sans', sans-serif; text-anchor: middle; fill: #ffa500" x="263.270986" y="263.656667" transform="translate(0.360 0.000) rotate(-0 263.270986 263.656667)">H</text>
   </g>
   <g id="text_54">
    <text style="font-size: 10px; font-family: 'DejaVu Sans', sans-serif; text-anchor: middle" x="263.270986" y="274.288333" transform="translate(0.360 0.000) rotate(-0 263.270986 274.288333)">P</text>
   </g>
   <g id="text_55">
    <text style="font-size: 10px; font-family: 'DejaVu Sans', sans-serif; text-anchor: middle; fill: #ffa500" x="274.615775" y="263.656667" transform="translate(0.540 0.000) rotate(-0 274.615775 263.656667)">H</text>
   </g>
   <g id="text_56">
    <text style="font-size: 10px; font-family: 'DejaVu Sans', sans-serif; text-anchor: middle" x="274.615775" y="274.288333" transform="translate(0.720 0.000) rotate(-0 274.615775 274.288333) translate(274.615775 274.288333) scale(0.9900 1.0000) translate(-274.615775 -274.288333)">S</text>
   </g>
   <g id="text_57">
    <text style="font-size: 10px; font-family: 'DejaVu Sans', sans-serif; text-anchor: middle; fill: #ffa500" x="285.960563" y="263.656667" transform="translate(0.000 0.000) rotate(-0 285.960563 263.656667) translate(285.960563 263.656667) scale(1.0050 1.0000) translate(-285.960563 -263.656667)">H</text>
   </g>
   <g id="text_58">
    <text style="font-size: 10px; font-family: 'DejaVu Sans', sans-serif; text-anchor: middle" x="285.960563" y="274.288333" transform="translate(0.360 0.000) rotate(-0 285.960563 274.288333)">V</text>
   </g>
   <g id="text_59">
    <text style="font-size: 10px; font-family: 'DejaVu Sans', sans-serif; text-anchor: middle; fill: #ffd700" x="297.305352" y="263.656667" transform="translate(0.720 0.000) rotate(-0 297.305352 263.656667) translate(297.305352 263.656667) scale(0.9900 1.0000) translate(-297.305352 -263.656667)">C</text>
   </g>
   <g id="text_60">
    <text style="font-size: 10px; font-family: 'DejaVu Sans', sans-serif; text-anchor: middle" x="297.305352" y="274.288333" transform="translate(-0.180 0.000) rotate(-0 297.305352 274.288333)">A</text>
   </g>
   <g id="text_61">
    <text style="font-size: 10px; font-family: 'DejaVu Sans', sans-serif; text-anchor: middle; fill: #ffd700" x="308.650141" y="263.656667" transform="translate(0.720 0.000) rotate(-0 308.650141 263.656667) translate(308.650141 263.656667) scale(0.9900 1.0000) translate(-308.650141 -263.656667)">C</text>
   </g>
   <g id="text_62">
    <text style="font-size: 10px; font-family: 'DejaVu Sans', sans-serif; text-anchor: middle" x="308.650141" y="274.288333" transform="translate(0.180 0.000) rotate(-0 308.650141 274.288333) translate(308.650141 274.288333) scale(0.9900 1.0000) translate(-308.650141 -274.288333)">L</text>
   </g>
   <g id="text_63">
    <text style="font-size: 10px; font-family: 'DejaVu Sans', sans-serif; text-anchor: middle; fill: #ffd700" x="319.99493" y="263.656667" transform="translate(0.360 0.000) rotate(-0 319.99493 263.656667)">C</text>
   </g>
   <g id="text_64">
    <text style="font-size: 10px; font-family: 'DejaVu Sans', sans-serif; text-anchor: middle" x="319.99493" y="274.288333" transform="translate(0.720 0.000) rotate(-0 319.99493 274.288333) translate(319.99493 274.288333) scale(0.9950 1.0000) translate(-319.99493 -274.288333)">S</text>
   </g>
   <g id="text_65">
    <text style="font-size: 10px; font-family: 'DejaVu Sans', sans-serif; text-anchor: middle; fill: #808080" x="331.339718" y="263.656667" transform="translate(0.900 0.000) rotate(-0 331.339718 263.656667)">O</text>
   </g>
   <g id="text_66">
    <text style="font-size: 10px; font-family: 'DejaVu Sans', sans-serif; text-anchor: middle" x="331.339718" y="274.288333" transform="translate(0.540 0.000) rotate(-0 331.339718 274.288333)">R</text>
   </g>
   <g id="text_67">
    <text style="font-size: 10px; font-family: 'DejaVu Sans', sans-serif; text-anchor: middle; fill: #808080" x="342.684507" y="263.656667" transform="translate(0.360 0.000) rotate(-0 342.684507 263.656667) translate(342.684507 263.656667) scale(0.9900 1.0000) translate(-342.684507 -263.656667)">O</text>
   </g>
   <g id="text_68">
    <text style="font-size: 10px; font-family: 'DejaVu Sans', sans-serif; text-anchor: middle" x="342.684507" y="274.288333" transform="translate(0.180 0.000) rotate(-0 342.684507 274.288333)">H</text>
   </g>
   <g id="text_69">
    <text style="font-size: 10px; font-family: 'DejaVu Sans', sans-serif; text-anchor: middle; fill: #808080" x="354.029296" y="263.656667" transform="translate(0.540 0.000) rotate(-0 354.029296 263.656667) translate(354.029296 263.656667) scale(0.9950 1.0000) translate(-354.029296 -263.656667)">O</text>
   </g>
   <g id="text_70">
    <text style="font-size: 10px; font-family: 'DejaVu Sans', sans-serif; text-anchor: middle" x="354.029296" y="274.288333" transform="rotate(-0 354.029296 274.288333)">A</text>
   </g>
   <g id="text_71">
    <text style="font-size: 10px; font-family: 'DejaVu Sans', sans-serif; text-anchor: middle; fill: #808080" x="365.374085" y="263.656667" transform="translate(0.720 0.000) rotate(-0 365.374085 263.656667) translate(365.374085 263.656667) scale(0.9950 1.0000) translate(-365.374085 -263.656667)">O</text>
   </g>
   <g id="text_72">
    <text style="font-size: 10px; font-family: 'DejaVu Sans', sans-serif; text-anchor: middle" x="365.374085" y="274.288333" transform="translate(0.180 0.000) rotate(-0 365.374085 274.288333)">V</text>
   </g>
   <g id="text_73">
    <text style="font-size: 10px; font-family: 'DejaVu Sans', sans-serif; text-anchor: middle; fill: #808080" x="376.718873" y="263.656667" transform="translate(0.900 0.000) rotate(-0 376.718873 263.656667) translate(376.718873 263.656667) scale(0.9900 1.0000) translate(-376.718873 -263.656667)">O</text>
   </g>
   <g id="text_74">
    <text style="font-size: 10px; font-family: 'DejaVu Sans', sans-serif; text-anchor: middle" x="376.718873" y="274.288333" transform="translate(0.000 0.000) rotate(-0 376.718873 274.288333) translate(376.718873 274.288333) scale(1.0050 1.0000) translate(-376.718873 -274.288333)">T</text>
   </g>
   <g id="text_75">
    <text style="font-size: 10px; font-family: 'DejaVu Sans', sans-serif; text-anchor: middle; fill: #808080" x="388.063662" y="263.656667" transform="translate(0.360 0.000) rotate(-0 388.063662 263.656667)">O</text>
   </g>
   <g id="text_76">
    <text style="font-size: 10px; font-family: 'DejaVu Sans', sans-serif; text-anchor: middle" x="388.063662" y="274.288333" transform="translate(0.360 0.000) rotate(-0 388.063662 274.288333)">D</text>
   </g>
   <g id="text_77">
    <text style="font-size: 10px; font-family: 'DejaVu Sans', sans-serif; text-anchor: middle; fill: #808080" x="399.408451" y="263.656667" transform="translate(0.540 0.000) rotate(-0 399.408451 263.656667)">O</text>
   </g>
   <g id="text_78">
    <text style="font-size: 10px; font-family: 'DejaVu Sans', sans-serif; text-anchor: middle" x="399.408451" y="274.288333" transform="translate(0.540 0.000) rotate(-0 399.408451 274.288333)">G</text>
   </g>
   <g id="text_79">
    <text style="font-size: 10px; font-family: 'DejaVu Sans', sans-serif; text-anchor: middle; fill: #808080" x="410.753239" y="263.656667" transform="translate(0.720 0.000) rotate(-0 410.753239 263.656667)">O</text>
   </g>
   <g id="text_80">
    <text style="font-size: 10px; font-family: 'DejaVu Sans', sans-serif; text-anchor: middle" x="410.753239" y="274.288333" transform="translate(0.360 0.000) rotate(-0 410.753239 274.288333)">L</text>
   </g>
   <g id="text_81">
    <text style="font-size: 10px; font-family: 'DejaVu Sans', sans-serif; text-anchor: middle; fill: #808080" x="422.098028" y="263.656667" transform="translate(0.900 0.000) rotate(-0 422.098028 263.656667) translate(422.098028 263.656667) scale(0.9900 1.0000) translate(-422.098028 -263.656667)">O</text>
   </g>
   <g id="text_82">
    <text style="font-size: 10px; font-family: 'DejaVu Sans', sans-serif; text-anchor: middle" x="422.098028" y="274.288333" transform="translate(0.360 0.000) rotate(-0 422.098028 274.288333)">V</text>
   </g>
   <g id="text_83">
    <text style="font-size: 10px; font-family: 'DejaVu Sans', sans-serif; text-anchor: middle; fill: #808080" x="433.442817" y="263.656667" transform="translate(0.360 0.000) rotate(-0 433.442817 263.656667) translate(433.442817 263.656667) scale(1.0050 1.0000) translate(-433.442817 -263.656667)">O</text>
   </g>
   <g id="text_84">
    <text style="font-size: 10px; font-family: 'DejaVu Sans', sans-serif; text-anchor: middle" x="433.442817" y="274.288333" transform="translate(0.360 0.000) rotate(-0 433.442817 274.288333) translate(433.442817 274.288333) scale(1.0050 1.0000) translate(-433.442817 -274.288333)">D</text>
   </g>
   <g id="text_85">
    <text style="font-size: 10px; font-family: 'DejaVu Sans', sans-serif; text-anchor: middle; fill: #808080" x="444.787606" y="263.656667" transform="translate(0.540 0.000) rotate(-0 444.787606 263.656667) translate(444.787606 263.656667) scale(0.9950 1.0000) translate(-444.787606 -263.656667)">O</text>
   </g>
   <g id="text_86">
    <text style="font-size: 10px; font-family: 'DejaVu Sans', sans-serif; text-anchor: middle" x="444.787606" y="274.288333" transform="rotate(-0 444.787606 274.288333)">A</text>
   </g>
   <g id="text_87">
    <text style="font-size: 10px; font-family: 'DejaVu Sans', sans-serif; text-anchor: middle; fill: #808080" x="456.132394" y="263.656667" transform="translate(0.720 0.000) rotate(-0 456.132394 263.656667) translate(456.132394 263.656667) scale(0.9900 1.0000) translate(-456.132394 -263.656667)">O</text>
   </g>
   <g id="text_88">
    <text style="font-size: 10px; font-family: 'DejaVu Sans', sans-serif; text-anchor: middle" x="456.132394" y="274.288333" transform="translate(0.360 0.000) rotate(-0 456.132394 274.288333) translate(456.132394 274.288333) scale(1.0050 1.0000) translate(-456.132394 -274.288333)">M</text>
   </g>
   <g id="text_89">
    <text style="font-size: 10px; font-family: 'DejaVu Sans', sans-serif; text-anchor: middle; fill: #808080" x="467.477183" y="263.656667" transform="translate(0.900 0.000) rotate(-0 467.477183 263.656667) translate(467.477183 263.656667) scale(0.9900 1.0000) translate(-467.477183 -263.656667)">O</text>
   </g>
   <g id="text_90">
    <text style="font-size: 10px; font-family: 'DejaVu Sans', sans-serif; text-anchor: middle" x="467.477183" y="274.288333" transform="translate(0.000 0.000) rotate(-0 467.477183 274.288333) translate(467.477183 274.288333) scale(1.0050 1.0000) translate(-467.477183 -274.288333)">T</text>
   </g>
   <g id="text_91">
    <text style="font-size: 10px; font-family: 'DejaVu Sans', sans-serif; text-anchor: middle; fill: #808080" x="478.821972" y="263.656667" transform="translate(0.360 0.000) rotate(-0 478.821972 263.656667) translate(478.821972 263.656667) scale(1.0050 1.0000) translate(-478.821972 -263.656667)">O</text>
   </g>
   <g id="text_92">
    <text style="font-size: 10px; font-family: 'DejaVu Sans', sans-serif; text-anchor: middle" x="478.821972" y="274.288333" transform="translate(0.360 0.000) rotate(-0 478.821972 274.288333) translate(478.821972 274.288333) scale(1.0050 1.0000) translate(-478.821972 -274.288333)">G</text>
   </g>
   <g id="text_93">
    <text style="font-size: 10px; font-family: 'DejaVu Sans', sans-serif; text-anchor: middle; fill: #808080" x="490.166761" y="263.656667" transform="translate(0.360 0.000) rotate(-0 490.166761 263.656667) translate(490.166761 263.656667) scale(0.9900 1.0000) translate(-490.166761 -263.656667)">O</text>
   </g>
   <g id="text_94">
    <text style="font-size: 10px; font-family: 'DejaVu Sans', sans-serif; text-anchor: middle" x="490.166761" y="274.288333" transform="rotate(-0 490.166761 274.288333)">A</text>
   </g>
   <g id="text_95">
    <text style="font-size: 10px; font-family: 'DejaVu Sans', sans-serif; text-anchor: middle; fill: #808080" x="501.511549" y="263.656667" transform="translate(0.720 0.000) rotate(-0 501.511549 263.656667) translate(501.511549 263.656667) scale(1.0050 1.0000) translate(-501.511549 -263.656667)">O</text>
   </g>
   <g id="text_96">
    <text style="font-size: 10px; font-family: 'DejaVu Sans', sans-serif; text-anchor: middle" x="501.511549" y="274.288333" transform="translate(0.540 0.000) rotate(-0 501.511549 274.288333) translate(501.511549 274.288333) scale(0.9900 1.0000) translate(-501.511549 -274.288333)">S</text>
   </g>
   <g id="text_97">
    <text style="font-size: 10px; font-family: 'DejaVu Sans', sans-serif; text-anchor: middle; fill: #808080" x="512.856338" y="263.656667" transform="translate(0.720 0.000) rotate(-0 512.856338 263.656667) translate(512.856338 263.656667) scale(0.9900 1.0000) translate(-512.856338 -263.656667)">O</text>
   </g>
   <g id="text_98">
    <text style="font-size: 10px; font-family: 'DejaVu Sans', sans-serif; text-anchor: middle" x="512.856338" y="274.288333" transform="translate(0.000 0.000) rotate(-0 512.856338 274.288333) translate(512.856338 274.288333) scale(0.9900 1.0000) translate(-512.856338 -274.288333)">E</text>
   </g>
   <g id="text_99">
    <text style="font-size: 10px; font-family: 'DejaVu Sans', sans-serif; text-anchor: middle; fill: #808080" x="524.201127" y="263.656667" transform="translate(0.360 0.000) rotate(-0 524.201127 263.656667)">O</text>
   </g>
   <g id="text_100">
    <text style="font-size: 10px; font-family: 'DejaVu Sans', sans-serif; text-anchor: middle" x="524.201127" y="274.288333" transform="translate(0.360 0.000) rotate(-0 524.201127 274.288333)">Q</text>
   </g>
   <g id="text_101">
    <text style="font-size: 10px; font-family: 'DejaVu Sans', sans-serif; text-anchor: middle; fill: #808080" x="535.545915" y="263.656667" transform="translate(0.360 0.000) rotate(-0 535.545915 263.656667) translate(535.545915 263.656667) scale(0.9900 1.0000) translate(-535.545915 -263.656667)">O</text>
   </g>
   <g id="text_102">
    <text style="font-size: 10px; font-family: 'DejaVu Sans', sans-serif; text-anchor: middle" x="535.545915" y="274.288333" transform="rotate(-0 535.545915 274.288333)">A</text>
   </g>
   <g id="text_103">
    <text style="font-size: 10px; font-family: 'DejaVu Sans', sans-serif; text-anchor: middle; fill: #808080" x="546.890704" y="263.656667" transform="translate(0.540 0.000) rotate(-0 546.890704 263.656667) translate(546.890704 263.656667) scale(0.9950 1.0000) translate(-546.890704 -263.656667)">O</text>
   </g>
   <g id="text_104">
    <text style="font-size: 10px; font-family: 'DejaVu Sans', sans-serif; text-anchor: middle" x="546.890704" y="274.288333" transform="translate(0.540 0.000) rotate(-0 546.890704 274.288333) translate(546.890704 274.288333) scale(0.9950 1.0000) translate(-546.890704 -274.288333)">E</text>
   </g>
   <g id="text_105">
    <text style="font-size: 10px; font-family: 'DejaVu Sans', sans-serif; text-anchor: middle; fill: #808080" x="558.235493" y="263.656667" transform="translate(0.720 0.000) rotate(-0 558.235493 263.656667) translate(558.235493 263.656667) scale(0.9950 1.0000) translate(-558.235493 -263.656667)">O</text>
   </g>
   <g id="text_106">
    <text style="font-size: 10px; font-family: 'DejaVu Sans', sans-serif; text-anchor: middle" x="558.235493" y="274.288333" transform="translate(0.000 0.000) rotate(-0 558.235493 274.288333) translate(558.235493 274.288333) scale(0.9950 1.0000) translate(-558.235493 -274.288333)">E</text>
   </g>
   <g id="text_107">
    <text style="font-size: 10px; font-family: 'DejaVu Sans', sans-serif; text-anchor: middle; fill: #808080" x="569.580282" y="263.656667" transform="translate(0.360 0.000) rotate(-0 569.580282 263.656667)">O</text>
   </g>
   <g id="text_108">
    <text style="font-size: 10px; font-family: 'DejaVu Sans', sans-serif; text-anchor: middle" x="569.580282" y="274.288333" transform="translate(0.360 0.000) rotate(-0 569.580282 274.288333)">K</text>
   </g>
   <g id="text_109">
    <text style="font-size: 10px; font-family: 'DejaVu Sans', sans-serif; text-anchor: middle; fill: #808080" x="580.92507" y="263.656667" transform="translate(0.360 0.000) rotate(-0 580.92507 263.656667)">O</text>
   </g>
   <g id="text_110">
    <text style="font-size: 10px; font-family: 'DejaVu Sans', sans-serif; text-anchor: middle" x="580.92507" y="274.288333" transform="translate(0.360 0.000) rotate(-0 580.92507 274.288333)">Q</text>
   </g>
   <g id="text_111">
    <text style="font-size: 10px; font-family: 'DejaVu Sans', sans-serif; text-anchor: middle; fill: #808080" x="592.269859" y="263.656667" transform="translate(0.540 0.000) rotate(-0 592.269859 263.656667)">O</text>
   </g>
   <g id="text_112">
    <text style="font-size: 10px; font-family: 'DejaVu Sans', sans-serif; text-anchor: middle" x="592.269859" y="274.288333" transform="translate(0.540 0.000) rotate(-0 592.269859 274.288333)">Q</text>
   </g>
   <g id="text_113">
    <text style="font-size: 10px; font-family: 'DejaVu Sans', sans-serif; text-anchor: middle; fill: #808080" x="603.614648" y="263.656667" transform="translate(0.720 0.000) rotate(-0 603.614648 263.656667)">O</text>
   </g>
   <g id="text_114">
    <text style="font-size: 10px; font-family: 'DejaVu Sans', sans-serif; text-anchor: middle" x="603.614648" y="274.288333" transform="translate(0.540 0.000) rotate(-0 603.614648 274.288333)">P</text>
   </g>
   <g id="text_115">
    <text style="font-size: 10px; font-family: 'DejaVu Sans', sans-serif; text-anchor: middle; fill: #808080" x="614.959437" y="263.656667" transform="rotate(-0 614.959437 263.656667)">O</text>
   </g>
   <g id="text_116">
    <text style="font-size: 10px; font-family: 'DejaVu Sans', sans-serif; text-anchor: middle" x="614.959437" y="274.288333" transform="translate(-0.180 0.000) rotate(-0 614.959437 274.288333)">V</text>
   </g>
   <g id="text_117">
    <text style="font-size: 10px; font-family: 'DejaVu Sans', sans-serif; text-anchor: middle; fill: #808080" x="626.304225" y="263.656667" transform="translate(0.360 0.000) rotate(-0 626.304225 263.656667) translate(626.304225 263.656667) scale(0.9900 1.0000) translate(-626.304225 -263.656667)">O</text>
   </g>
   <g id="text_118">
    <text style="font-size: 10px; font-family: 'DejaVu Sans', sans-serif; text-anchor: middle" x="626.304225" y="274.288333" transform="translate(0.180 0.000) rotate(-0 626.304225 274.288333)">N</text>
   </g>
   <g id="text_119">
    <text style="font-size: 10px; font-family: 'DejaVu Sans', sans-serif; text-anchor: middle; fill: #808080" x="637.649014" y="263.656667" transform="translate(0.540 0.000) rotate(-0 637.649014 263.656667)">O</text>
   </g>
   <g id="text_120">
    <text style="font-size: 10px; font-family: 'DejaVu Sans', sans-serif; text-anchor: middle" x="637.649014" y="274.288333" transform="translate(0.540 0.000) rotate(-0 637.649014 274.288333)">G</text>
   </g>
   <g id="text_121">
    <text style="font-size: 10px; font-family: 'DejaVu Sans', sans-serif; text-anchor: middle; fill: #808080" x="648.993803" y="263.656667" transform="translate(0.720 0.000) rotate(-0 648.993803 263.656667)">O</text>
   </g>
   <g id="text_122">
    <text style="font-size: 10px; font-family: 'DejaVu Sans', sans-serif; text-anchor: middle" x="648.993803" y="274.288333" transform="translate(0.000 0.000) rotate(-0 648.993803 274.288333) translate(648.993803 274.288333) scale(1.0050 1.0000) translate(-648.993803 -274.288333)">T</text>
   </g>
   <g id="text_123">
    <text style="font-size: 10px; font-family: 'DejaVu Sans', sans-serif; text-anchor: middle; fill: #808080" x="660.338592" y="263.656667" transform="translate(0.180 0.000) rotate(-0 660.338592 263.656667)">O</text>
   </g>
   <g id="text_124">
    <text style="font-size: 10px; font-family: 'DejaVu Sans', sans-serif; text-anchor: middle" x="660.338592" y="274.288333" transform="translate(0.900 0.000) rotate(-0 660.338592 274.288333) translate(660.338592 274.288333) scale(0.9950 1.0000) translate(-660.338592 -274.288333)">G</text>
   </g>
   <g id="text_125">
    <text style="font-size: 10px; font-family: 'DejaVu Sans', sans-serif; text-anchor: middle; fill: #808080" x="671.68338" y="263.656667" transform="translate(0.180 0.000) rotate(-0 671.68338 263.656667) translate(671.68338 263.656667) scale(1.0050 1.0000) translate(-671.68338 -263.656667)">O</text>
   </g>
   <g id="text_126">
    <text style="font-size: 10px; font-family: 'DejaVu Sans', sans-serif; text-anchor: middle" x="671.68338" y="274.288333" transform="translate(0.180 0.000) rotate(-0 671.68338 274.288333)">N</text>
   </g>
   <g id="text_127">
    <text style="font-size: 10px; font-family: 'DejaVu Sans', sans-serif; text-anchor: middle; fill: #808080" x="683.028169" y="263.656667" transform="translate(0.540 0.000) rotate(-0 683.028169 263.656667)">O</text>
   </g>
   <g id="text_128">
    <text style="font-size: 10px; font-family: 'DejaVu Sans', sans-serif; text-anchor: middle" x="683.028169" y="274.288333" transform="translate(0.180 0.000) rotate(-0 683.028169 274.288333)">L</text>
   </g>
   <g id="text_129">
    <text style="font-size: 10px; font-family: 'DejaVu Sans', sans-serif; text-anchor: middle; fill: #808080" x="694.372958" y="263.656667" transform="translate(0.720 0.000) rotate(-0 694.372958 263.656667) translate(694.372958 263.656667) scale(0.9950 1.0000) translate(-694.372958 -263.656667)">O</text>
   </g>
   <g id="text_130">
    <text style="font-size: 10px; font-family: 'DejaVu Sans', sans-serif; text-anchor: middle" x="694.372958" y="274.288333" transform="translate(0.720 0.000) rotate(-0 694.372958 274.288333)">Q</text>
   </g>
   <g id="text_131">
    <text style="font-size: 10px; font-family: 'DejaVu Sans', sans-serif; text-anchor: middle; fill: #808080" x="705.717746" y="263.656667" transform="translate(0.180 0.000) rotate(-0 705.717746 263.656667) translate(705.717746 263.656667) scale(0.9900 1.0000) translate(-705.717746 -263.656667)">O</text>
   </g>
   <g id="text_132">
    <text style="font-size: 10px; font-family: 'DejaVu Sans', sans-serif; text-anchor: middle" x="705.717746" y="274.288333" transform="translate(0.180 0.000) rotate(-0 705.717746 274.288333) translate(705.717746 274.288333) scale(0.9900 1.0000) translate(-705.717746 -274.288333)">K</text>
   </g>
   <g id="text_133">
    <text style="font-size: 10px; font-family: 'DejaVu Sans', sans-serif; text-anchor: middle; fill: #808080" x="717.062535" y="263.656667" transform="translate(0.360 0.000) rotate(-0 717.062535 263.656667)">O</text>
   </g>
   <g id="text_134">
    <text style="font-size: 10px; font-family: 'DejaVu Sans', sans-serif; text-anchor: middle" x="717.062535" y="274.288333" transform="translate(0.360 0.000) rotate(-0 717.062535 274.288333)">G</text>
   </g>
   <g id="text_135">
    <text style="font-size: 10px; font-family: 'DejaVu Sans', sans-serif; text-anchor: middle; fill: #808080" x="728.407324" y="263.656667" transform="translate(0.540 0.000) rotate(-0 728.407324 263.656667)">O</text>
   </g>
   <g id="text_136">
    <text style="font-size: 10px; font-family: 'DejaVu Sans', sans-serif; text-anchor: middle" x="728.407324" y="274.288333" transform="translate(0.540 0.000) rotate(-0 728.407324 274.288333)">D</text>
   </g>
   <g id="text_137">
    <text style="font-size: 10px; font-family: 'DejaVu Sans', sans-serif; text-anchor: middle; fill: #808080" x="739.752113" y="263.656667" transform="translate(0.540 0.000) rotate(-0 739.752113 263.656667) translate(739.752113 263.656667) scale(1.0050 1.0000) translate(-739.752113 -263.656667)">O</text>
   </g>
   <g id="text_138">
    <text style="font-size: 10px; font-family: 'DejaVu Sans', sans-serif; text-anchor: middle" x="739.752113" y="274.288333" transform="translate(0.540 0.000) rotate(-0 739.752113 274.288333) translate(739.752113 274.288333) scale(0.9900 1.0000) translate(-739.752113 -274.288333)">Y</text>
   </g>
   <g id="text_139">
    <text style="font-size: 10px; font-family: 'DejaVu Sans', sans-serif; text-anchor: middle; fill: #808080" x="751.096901" y="263.656667" transform="translate(0.900 0.000) rotate(-0 751.096901 263.656667) translate(751.096901 263.656667) scale(0.9950 1.0000) translate(-751.096901 -263.656667)">O</text>
   </g>
   <g id="text_140">
    <text style="font-size: 10px; font-family: 'DejaVu Sans', sans-serif; text-anchor: middle" x="751.096901" y="274.288333" transform="translate(0.900 0.000) rotate(-0 751.096901 274.288333)">G</text>
   </g>
   <g id="text_141">
    <text style="font-size: 10px; font-family: 'DejaVu Sans', sans-serif; text-anchor: middle; fill: #808080" x="762.44169" y="263.656667" transform="translate(0.360 0.000) rotate(-0 762.44169 263.656667)">O</text>
   </g>
   <g id="text_142">
    <text style="font-size: 10px; font-family: 'DejaVu Sans', sans-serif; text-anchor: middle" x="762.44169" y="274.288333" transform="translate(0.900 0.000) rotate(-0 762.44169 274.288333) translate(762.44169 274.288333) scale(0.9900 1.0000) translate(-762.44169 -274.288333)">Y</text>
   </g>
   <g id="text_143">
    <text style="font-size: 10px; font-family: 'DejaVu Sans', sans-serif; text-anchor: middle; fill: #808080" x="773.786479" y="263.656667" transform="translate(0.540 0.000) rotate(-0 773.786479 263.656667)">O</text>
   </g>
   <g id="text_144">
    <text style="font-size: 10px; font-family: 'DejaVu Sans', sans-serif; text-anchor: middle" x="773.786479" y="274.288333" transform="translate(0.180 0.000) rotate(-0 773.786479 274.288333)">L</text>
   </g>
   <g id="text_145">
    <text style="font-size: 10px; font-family: 'DejaVu Sans', sans-serif; text-anchor: middle; fill: #808080" x="785.131268" y="263.656667" transform="translate(0.540 0.000) rotate(-0 785.131268 263.656667) translate(785.131268 263.656667) scale(1.0050 1.0000) translate(-785.131268 -263.656667)">O</text>
   </g>
   <g id="text_146">
    <text style="font-size: 10px; font-family: 'DejaVu Sans', sans-serif; text-anchor: middle" x="785.131268" y="274.288333" transform="translate(0.540 0.000) rotate(-0 785.131268 274.288333) translate(785.131268 274.288333) scale(0.9900 1.0000) translate(-785.131268 -274.288333)">Y</text>
   </g>
   <g id="text_147">
    <text style="font-size: 10px; font-family: 'DejaVu Sans', sans-serif; text-anchor: middle; fill: #808080" x="796.476056" y="263.656667" transform="translate(0.900 0.000) rotate(-0 796.476056 263.656667)">O</text>
   </g>
   <g id="text_148">
    <text style="font-size: 10px; font-family: 'DejaVu Sans', sans-serif; text-anchor: middle" x="796.476056" y="274.288333" transform="translate(0.540 0.000) rotate(-0 796.476056 274.288333) translate(796.476056 274.288333) scale(1.0050 1.0000) translate(-796.476056 -274.288333)">C</text>
   </g>
   <g id="text_149">
    <text style="font-size: 10px; font-family: 'DejaVu Sans', sans-serif; text-anchor: middle; fill: #808080" x="807.820845" y="263.656667" transform="translate(0.360 0.000) rotate(-0 807.820845 263.656667) translate(807.820845 263.656667) scale(0.9900 1.0000) translate(-807.820845 -263.656667)">O</text>
   </g>
   <g id="text_150">
    <text style="font-size: 10px; font-family: 'DejaVu Sans', sans-serif; text-anchor: middle" x="807.820845" y="274.288333" transform="translate(0.180 0.000) rotate(-0 807.820845 274.288333)">H</text>
   </g>
   <g id="text_151">
    <text style="font-size: 10px; font-family: 'DejaVu Sans', sans-serif; text-anchor: middle; fill: #808080" x="819.165634" y="263.656667" transform="translate(0.540 0.000) rotate(-0 819.165634 263.656667) translate(819.165634 263.656667) scale(0.9900 1.0000) translate(-819.165634 -263.656667)">O</text>
   </g>
   <g id="text_152">
    <text style="font-size: 10px; font-family: 'DejaVu Sans', sans-serif; text-anchor: middle" x="819.165634" y="274.288333" transform="translate(0.180 0.000) rotate(-0 819.165634 274.288333) translate(819.165634 274.288333) scale(1.0050 1.0000) translate(-819.165634 -274.288333)">M</text>
   </g>
   <g id="text_153">
    <text style="font-size: 10px; font-family: 'DejaVu Sans', sans-serif; text-anchor: middle; fill: #808080" x="830.510423" y="263.656667" transform="translate(0.720 0.000) rotate(-0 830.510423 263.656667)">O</text>
   </g>
   <g id="text_154">
    <text style="font-size: 10px; font-family: 'DejaVu Sans', sans-serif; text-anchor: middle" x="830.510423" y="274.288333" transform="translate(0.720 0.000) rotate(-0 830.510423 274.288333) translate(830.510423 274.288333) scale(0.9950 1.0000) translate(-830.510423 -274.288333)">S</text>
   </g>
   <g id="text_155">
    <text style="font-size: 10px; font-family: 'DejaVu Sans', sans-serif; text-anchor: middle; fill: #808080" x="841.855211" y="263.656667" transform="translate(0.900 0.000) rotate(-0 841.855211 263.656667) translate(841.855211 263.656667) scale(1.0050 1.0000) translate(-841.855211 -263.656667)">O</text>
   </g>
   <g id="text_156">
    <text style="font-size: 10px; font-family: 'DejaVu Sans', sans-serif; text-anchor: middle" x="841.855211" y="274.288333" transform="translate(0.180 0.000) rotate(-0 841.855211 274.288333) translate(841.855211 274.288333) scale(1.0050 1.0000) translate(-841.855211 -274.288333)">D</text>
   </g>
   <g id="text_157">
    <text style="font-size: 12px; font-family: 'DejaVu Sans', sans-serif; text-anchor: middle" x="450.46" y="20.88" transform="translate(0.216 0.000) rotate(-0 450.46 20.88) translate(450.46 20.88) scale(0.9960 1.0600) translate(-450.46 -20.88)">SignalP 6.0 prediction: MGYG000004721_00413 hypothetical protein</text>
   </g>
   <g id="legend_1">
    <g id="patch_7">
     <path d="M 768.6 110.52 L 846.36 110.52 
Q 848.52 110.52 848.52 108.36 L 848.52 34.2 
Q 848.52 32.04 846.36 32.04 L 768.6 32.04 
Q 766.44 32.04 766.44 34.2 L 766.44 108.36 
Q 766.44 110.52 768.6 110.52 z
" style="fill: #ffffff; opacity: 0.8; stroke: #cccccc; stroke-linejoin: miter"/>
    </g>
    <g id="line2d_90">
     <path d="M 770.4 40.32 L 780.48 40.32 L 790.56 40.32 
" style="fill: none; stroke-dasharray: 5.55,2.4; stroke-dashoffset: 0; stroke: #f08080; stroke-width: 1.5"/>
    </g>
    <g id="text_158">
     <text style="font-size: 10px; font-family: 'DejaVu Sans', sans-serif; text-anchor: start" x="798.3" y="43.8" transform="translate(0.360 0.000) rotate(-0 798.3 43.8) translate(798.3 43.8) scale(0.9900 1.0000) translate(-798.3 -43.8)">OTHER</text>
    </g>
    <g id="line2d_91">
     <path d="M 770.4 55.44 L 780.48 55.44 L 790.56 55.44 
" style="fill: none; stroke: #ff0000; stroke-width: 1.5; stroke-linecap: square"/>
    </g>
    <g id="text_159">
     <text style="font-size: 10px; font-family: 'DejaVu Sans', sans-serif; text-anchor: start" x="798.3" y="58.88" transform="translate(0.180 0.000) rotate(-0 798.3 58.88) translate(798.3 58.88) scale(0.9950 1.0000) translate(-798.3 -58.88)">Sec/SPI n</text>
    </g>
    <g id="line2d_92">
     <path d="M 770.4 70.56 L 780.48 70.56 L 790.56 70.56 
" style="fill: none; stroke: #ffa500; stroke-width: 1.5; stroke-linecap: square"/>
    </g>
    <g id="text_160">
     <text style="font-size: 10px; font-family: 'DejaVu Sans', sans-serif; text-anchor: start" x="798.3" y="73.96" transform="translate(0.180 0.000) rotate(-0 798.3 73.96) translate(798.3 73.96) scale(0.9950 1.0000) translate(-798.3 -73.96)">Sec/SPI h</text>
    </g>
    <g id="line2d_93">
     <path d="M 770.4 85.68 L 780.48 85.68 L 790.56 85.68 
" style="fill: none; stroke: #ffd700; stroke-width: 1.5; stroke-linecap: square"/>
    </g>
    <g id="text_161">
     <text style="font-size: 10px; font-family: 'DejaVu Sans', sans-serif; text-anchor: start" x="798.3" y="89.04" transform="translate(0.180 0.000) rotate(-0 798.3 89.04) translate(798.3 89.04) scale(0.9950 1.0000) translate(-798.3 -89.04)">Sec/SPI c</text>
    </g>
    <g id="line2d_94">
     <path d="M 770.4 100.8 L 780.48 100.8 L 790.56 100.8 
" style="fill: none; stroke-dasharray: 5.55,2.4; stroke-dashoffset: 0; stroke: #006400; stroke-width: 1.5"/>
    </g>
    <g id="text_162">
     <text style="font-size: 10px; font-family: 'DejaVu Sans', sans-serif; text-anchor: start" x="798.3" y="104.12" transform="translate(0.720 0.000) rotate(-0 798.3 104.12) translate(798.3 104.12) scale(0.9900 1.0000) translate(-798.3 -104.12)">CS</text>
    </g>
   </g>
  </g>
 </g>
 <defs>
  <clipPath id="p40c34edd6f">
   <rect x="47.72" y="26.88" width="805.48" height="255.16"/>
  </clipPath>
 </defs>
</svg>

</body></html>
